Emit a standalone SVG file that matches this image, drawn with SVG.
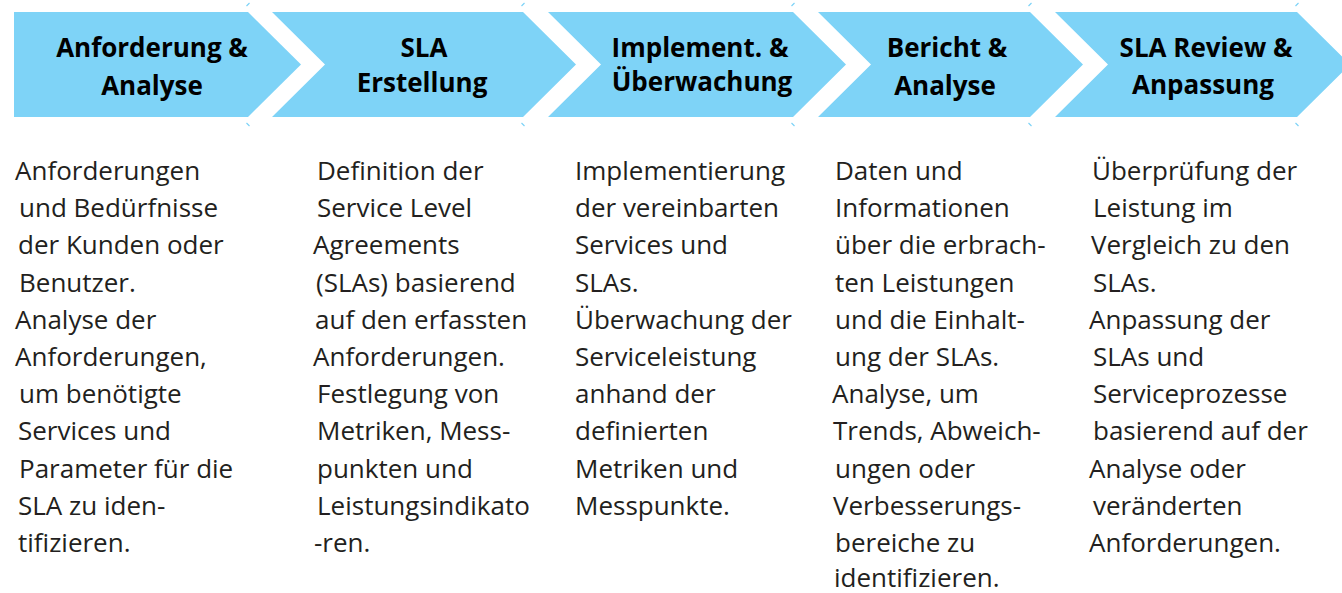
<svg xmlns="http://www.w3.org/2000/svg" width="1342" height="593" viewBox="0 0 1342 593">
  <style>
    .chev { fill: #7ed3f7; }
    .tick { stroke: #7ed3f7; stroke-width: 1.2; fill: none; }
    .title { font-family: "Open Sans", "Liberation Sans", sans-serif; font-weight: 700; font-size: 26px; fill: #000; text-anchor: middle; }
    .body { font-family: "Open Sans", "Liberation Sans", sans-serif; font-size: 26px; fill: #231f20; }
  </style>
  <rect width="1342" height="593" fill="#ffffff"/>

  <!-- small corner ticks above/below each chevron end -->
  <g id="connectors">
    <path class="tick" d="M246.5,6 L249.5,3 M246.5,123 L249.5,126"/>
    <path class="tick" d="M521.5,6 L524.5,3 M521.5,123 L524.5,126"/>
    <path class="tick" d="M791.5,6 L794.5,3 M791.5,123 L794.5,126"/>
    <path class="tick" d="M1028.5,6 L1031.5,3 M1028.5,123 L1031.5,126"/>
    <path class="tick" d="M1295.5,6 L1298.5,3 M1295.5,123 L1298.5,126"/>
  </g>

  <!-- Step 1 -->
  <g id="step1">
    <polygon class="chev" points="14,12 248,12 301,64.5 248,117 14,117"/>
    <text class="title" x="152" y="57">Anforderung &amp;</text>
    <text class="title" x="152" y="95">Analyse</text>
    <text class="body">
      <tspan x="15" y="180">Anforderungen</tspan>
      <tspan x="19" y="217.2">und Bedürfnisse</tspan>
      <tspan x="18" y="254.4">der Kunden oder</tspan>
      <tspan x="19" y="291.6">Benutzer.</tspan>
      <tspan x="15" y="328.8">Analyse der</tspan>
      <tspan x="15" y="366">Anforderungen,</tspan>
      <tspan x="19" y="403.2">um benötigte</tspan>
      <tspan x="18" y="440.4">Services und</tspan>
      <tspan x="19" y="477.6">Parameter für die</tspan>
      <tspan x="18" y="514.8">SLA zu iden-</tspan>
      <tspan x="18" y="552">tifizieren.</tspan>
    </text>
  </g>

  <!-- Step 2 -->
  <g id="step2">
    <polygon class="chev" points="272,12 523,12 576,64.5 523,117 272,117 325,64.5"/>
    <text class="title" x="424" y="57">SLA</text>
    <text class="title" x="422" y="92">Erstellung</text>
    <text class="body">
      <tspan x="317" y="180">Definition der</tspan>
      <tspan x="317" y="217.2">Service Level</tspan>
      <tspan x="313" y="254.4">Agreements</tspan>
      <tspan x="316" y="291.6">(SLAs) basierend</tspan>
      <tspan x="315" y="328.8">auf den erfassten</tspan>
      <tspan x="313" y="366">Anforderungen.</tspan>
      <tspan x="317" y="403.2">Festlegung von</tspan>
      <tspan x="317" y="440.4">Metriken, Mess-</tspan>
      <tspan x="317" y="477.6">punkten und</tspan>
      <tspan x="317" y="514.8">Leistungsindikato</tspan>
      <tspan x="314" y="552">-ren.</tspan>
    </text>
  </g>

  <!-- Step 3 -->
  <g id="step3">
    <polygon class="chev" points="548,12 793,12 846,64.5 793,117 548,117 601,64.5"/>
    <text class="title" x="700" y="57">Implement. &amp;</text>
    <text class="title" x="702" y="91">Überwachung</text>
    <text class="body">
      <tspan x="575" y="180">Implementierung</tspan>
      <tspan x="575" y="217.2">der vereinbarten</tspan>
      <tspan x="575" y="254.4">Services und</tspan>
      <tspan x="575" y="291.6">SLAs.</tspan>
      <tspan x="575" y="328.8">Überwachung der</tspan>
      <tspan x="575" y="366">Serviceleistung</tspan>
      <tspan x="575" y="403.2">anhand der</tspan>
      <tspan x="575" y="440.4">definierten</tspan>
      <tspan x="575" y="477.6">Metriken und</tspan>
      <tspan x="575" y="514.8">Messpunkte.</tspan>
    </text>
  </g>

  <!-- Step 4 -->
  <g id="step4">
    <polygon class="chev" points="818,12 1030,12 1083,64.5 1030,117 818,117 871,64.5"/>
    <text class="title" x="947" y="57">Bericht &amp;</text>
    <text class="title" x="945" y="95">Analyse</text>
    <text class="body">
      <tspan x="835" y="180">Daten und</tspan>
      <tspan x="835" y="217.2">Informationen</tspan>
      <tspan x="835" y="254.4">über die erbrach-</tspan>
      <tspan x="835" y="291.6">ten Leistungen</tspan>
      <tspan x="835" y="328.8">und die Einhalt-</tspan>
      <tspan x="835" y="366">ung der SLAs.</tspan>
      <tspan x="832" y="403.2">Analyse, um</tspan>
      <tspan x="833" y="440.4">Trends, Abweich-</tspan>
      <tspan x="835" y="477.6">ungen oder</tspan>
      <tspan x="833" y="514.8">Verbesserungs-</tspan>
      <tspan x="835" y="552">bereiche zu</tspan>
      <tspan x="834" y="587">identifizieren.</tspan>
    </text>
  </g>

  <!-- Step 5 -->
  <g id="step5">
    <polygon class="chev" points="1055,12 1297,12 1350,64.5 1297,117 1055,117 1108,64.5"/>
    <text class="title" x="1206" y="57">SLA Review &amp;</text>
    <text class="title" x="1203" y="94">Anpassung</text>
    <text class="body">
      <tspan x="1092" y="180">Überprüfung der</tspan>
      <tspan x="1093" y="217.2">Leistung im</tspan>
      <tspan x="1091" y="254.4">Vergleich zu den</tspan>
      <tspan x="1093" y="291.6">SLAs.</tspan>
      <tspan x="1089" y="328.8">Anpassung der</tspan>
      <tspan x="1093" y="366">SLAs und</tspan>
      <tspan x="1093" y="403.2">Serviceprozesse</tspan>
      <tspan x="1093" y="440.4">basierend auf der</tspan>
      <tspan x="1089" y="477.6">Analyse oder</tspan>
      <tspan x="1093" y="514.8">veränderten</tspan>
      <tspan x="1089" y="552">Anforderungen.</tspan>
    </text>
  </g>
</svg>
